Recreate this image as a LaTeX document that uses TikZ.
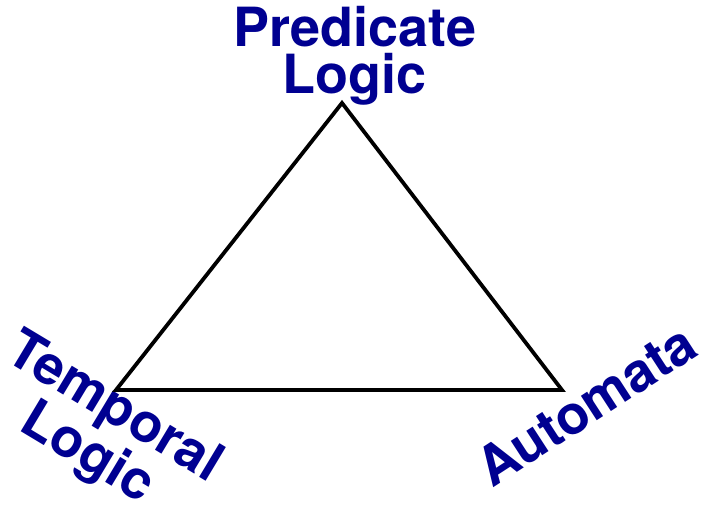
\documentclass[tikz,border=0pt]{standalone}
\usepackage{fontspec}
\setmainfont{TeX Gyre Heros}
\usepackage{tikz}
\usetikzlibrary{positioning}
\definecolor{labelblue}{RGB}{0,0,145}

\begin{document}
\begin{tikzpicture}[
    x=1pt, y=-1pt,
    label/.style={text=labelblue, font=\fontsize{54}{47}\selectfont\bfseries, align=center, inner sep=0pt},
    edge/.style={draw=black, line width=3.8pt, line join=miter}
]
\useasboundingbox (0,0) rectangle (707,505);

% Corners
\coordinate (pred) at (342,103);
\coordinate (temp) at (116,390);
\coordinate (auto) at (562,390);

% Labels
\node[label] (pred_lbl) at (355,56) {Predicate\\Logic};
\node[label, rotate=-31] (temp_lbl) at (100,432) {Temporal\\Logic};
\node[label, rotate=33] (auto_lbl) at (586,405) {Automata};

% Triangle
\draw[edge] (pred) -- (temp) -- (auto) -- cycle;

\end{tikzpicture}
\end{document}
